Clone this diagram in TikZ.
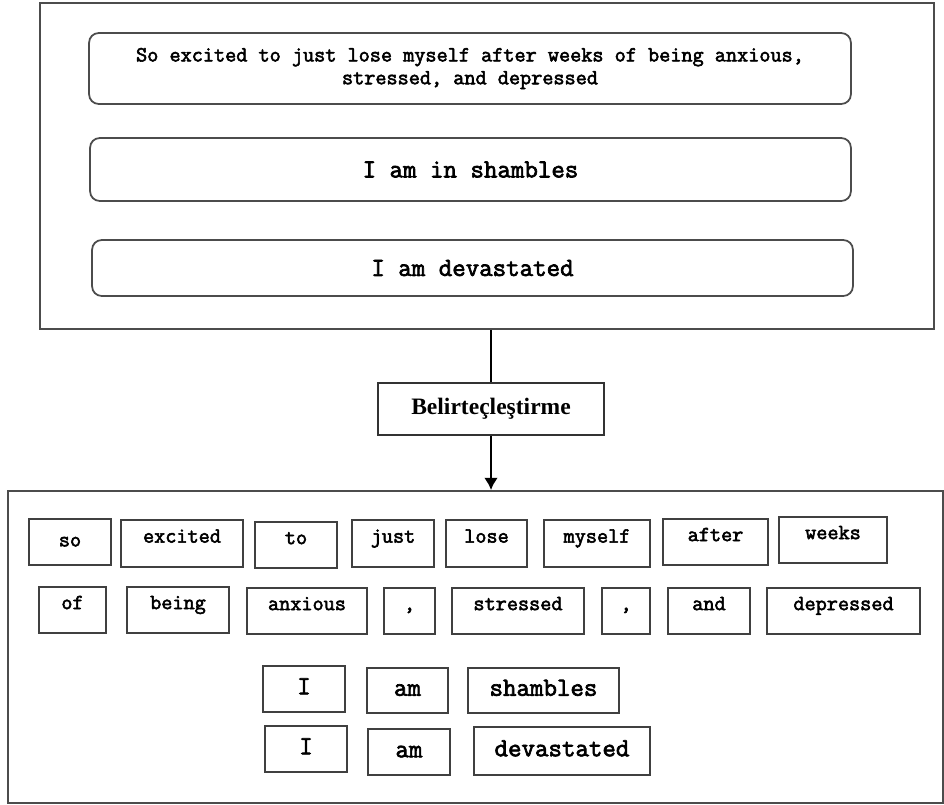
\documentclass[tikz,border=0pt]{standalone}
\usepackage{fontspec}
\setmainfont{Liberation Serif}
\newfontfamily\tokfont{Latin Modern Mono}[FakeBold=2.6]
\usetikzlibrary{positioning,arrows.meta}

\begin{document}
\begin{tikzpicture}[
                x=0.02cm, y=-0.02cm,
                frame/.style={rectangle,draw=black!70,line width=1.1pt,inner sep=0pt},
                sentence/.style={rectangle,rounded corners=5.5pt,draw=black!70,line width=1pt,inner sep=0pt,align=center,font=\tokfont\fontsize{12.3}{13}\selectfont},
                bigsentence/.style={sentence,font=\tokfont\fontsize{14.9}{15}\selectfont},
                tok/.style={rectangle,draw=black!75,line width=0.9pt,inner sep=0pt,font=\tokfont\fontsize{12.3}{13}\selectfont,text height=7pt,text depth=2pt},
                tokup/.style={tok,text depth=8pt},
                tokbig/.style={tok,font=\tokfont\fontsize{14.9}{15}\selectfont,text height=8.5pt,text depth=2.5pt},
                stage/.style={rectangle,draw=black!80,line width=1pt,inner sep=0pt,font=\bfseries\fontsize{13.4}{15}\selectfont,minimum width=4.52cm,minimum height=1.04cm},
                link/.style={line width=1.5pt,black},
            ]

            \useasboundingbox (0,0) rectangle (944,805);

            % Define nodes
            \node[frame,minimum width=17.88cm,minimum height=6.52cm] (top) at (487,166) {};
            \node[sentence,minimum width=15.24cm,minimum height=1.42cm] (s1) at (470,68.5) {So excited to just lose myself after weeks of being anxious,\\ stressed, and depressed};
            \node[bigsentence,minimum width=15.22cm,minimum height=1.26cm] (s2) at (470.5,169.5) {I am in shambles};
            \node[bigsentence,minimum width=15.22cm,minimum height=1.12cm] (s3) at (472.5,268) {I am devastated};

            \node[stage] (tokenize) at (491,409) {Belirteçleştirme};

            \node[frame,minimum width=18.7cm,minimum height=6.24cm] (bottom) at (475.5,647) {};

            % Tokens of the first sentence
            \node[tok,minimum width=1.64cm,minimum height=0.92cm] (so) at (70,542) {so};
            \node[tokup,minimum width=2.44cm,minimum height=0.94cm] (excited) at (182,543.5) {excited};
            \node[tokup,minimum width=1.64cm,minimum height=0.92cm] (to) at (296,545) {to};
            \node[tokup,minimum width=1.64cm,minimum height=0.94cm] (just) at (393,543.5) {just};
            \node[tokup,minimum width=1.62cm,minimum height=0.94cm] (lose) at (486.5,543.5) {lose};
            \node[tokup,minimum width=2.12cm,minimum height=0.94cm] (myself) at (597,543.5) {myself};
            \node[tokup,minimum width=2.1cm,minimum height=0.92cm] (after) at (715.5,542) {after};
            \node[tokup,minimum width=2.16cm,minimum height=0.92cm] (weeks) at (833,540) {weeks};

            \node[tokup,minimum width=1.34cm,minimum height=0.92cm] (of) at (72.5,610) {of};
            \node[tokup,minimum width=2.04cm,minimum height=0.92cm] (being) at (178,610) {being};
            \node[tokup,minimum width=2.4cm,minimum height=0.92cm] (anxious) at (307,611) {anxious};
            \node[tokup,minimum width=1.02cm,minimum height=0.92cm] (comma1) at (409.5,611) {,};
            \node[tokup,minimum width=2.64cm,minimum height=0.92cm] (stressed) at (518,611) {stressed};
            \node[tokup,minimum width=0.96cm,minimum height=0.92cm] (comma2) at (626,611) {,};
            \node[tokup,minimum width=1.64cm,minimum height=0.92cm] (and) at (709,611) {and};
            \node[tokup,minimum width=3.06cm,minimum height=0.92cm] (depressed) at (843.5,611) {depressed};

            % Tokens of the second and third sentence
            \node[tokbig,minimum width=1.64cm,minimum height=0.92cm] (I1) at (304,689) {I};
            \node[tokbig,minimum width=1.62cm,minimum height=0.9cm] (am1) at (407.5,690.5) {am};
            \node[tokbig,minimum width=3.02cm,minimum height=0.9cm] (shambles) at (543.5,690.5) {shambles};

            \node[tokbig,minimum width=1.64cm,minimum height=0.92cm] (I2) at (306,749) {I};
            \node[tokbig,minimum width=1.64cm,minimum height=0.92cm] (am2) at (409,752) {am};
            \node[tokbig,minimum width=3.52cm,minimum height=0.96cm] (devastated) at (562,751) {devastated};

            % Draw connections
            \draw[link] (top.south -| tokenize) -- (tokenize);
            \draw[link,-{Latex[length=7pt,width=8pt]}] (tokenize) -- (tokenize |- bottom.north);

            \end{tikzpicture}
\end{document}
